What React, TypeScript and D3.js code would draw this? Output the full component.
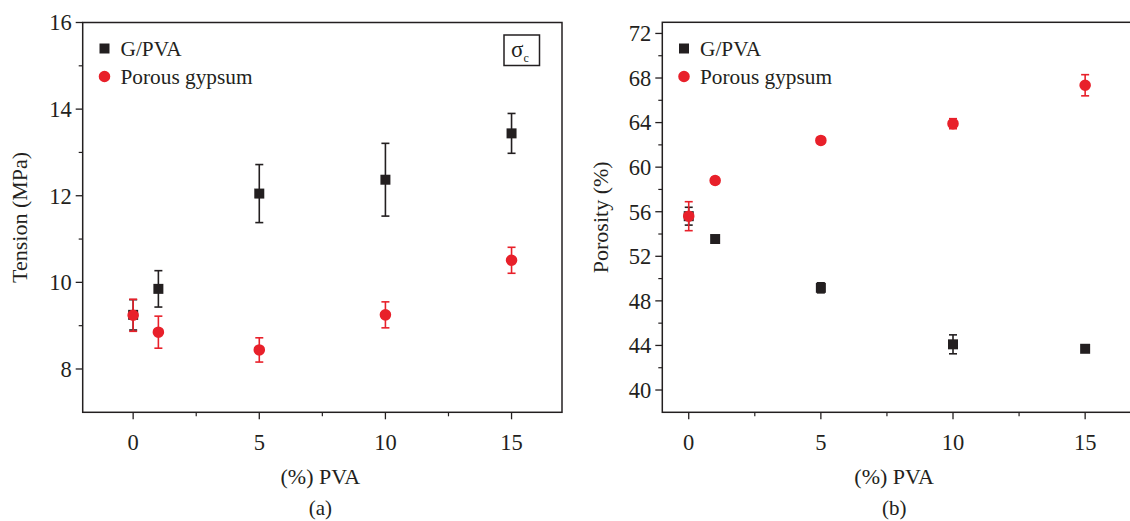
import React from "react";
import * as d3 from "d3";

const xValues = [0, 1, 5, 10, 15];
const xTickValues = [0, 5, 10, 15];
const xMinorTicks = [2.5, 7.5, 12.5];

const tensionGPVA = [9.25, 9.85, 12.05, 12.37, 13.44];
const tensionGPVAErr = [0.35, 0.42, 0.67, 0.84, 0.46];
const tensionPorous = [9.24, 8.85, 8.44, 9.25, 10.51];
const tensionPorousErr = [0.37, 0.37, 0.28, 0.3, 0.3];
const tensionTicks = [8, 10, 12, 14, 16];
const tensionMinor = [9, 11, 13, 15];

const porosityGPVA = [55.6, 53.55, 49.17, 44.1, 43.7];
const porosityGPVAErr = [0.8, 0.3, 0.45, 0.85, 0.15];
const porosityPorous = [55.6, 58.8, 62.4, 63.9, 67.35];
const porosityPorousErr = [1.3, 0.3, 0.3, 0.45, 0.95];
const porosityTicks = [40, 44, 48, 52, 56, 60, 64, 68, 72];
const porosityMinor = [42, 46, 50, 54, 58, 62, 66, 70];

const BLACK = "#231f20";
const RED = "#e8202a";
const FONT = "'Liberation Serif', 'Times New Roman', serif";

type PanelProps = {
  xDomain: [number, number];
  xRange: [number, number];
  yDomain: [number, number];
  yRange: [number, number];
  yTicks: number[];
  yMinor: number[];
  gpva: number[];
  gpvaErr: number[];
  porous: number[];
  porousErr: number[];
  yLabel: string;
  yLabelX: number;
  panelLabel: string;
  legendX: number;
  showSigma?: boolean;
};

function Panel(p: PanelProps) {
  const x = d3.scaleLinear().domain(p.xDomain).range(p.xRange);
  const y = d3.scaleLinear().domain(p.yDomain).range(p.yRange);
  const [x0, x1] = p.xRange;
  const [yb, yt] = p.yRange;
  const cx = (x0 + Math.min(x1, 1130)) / 2;
  const sq = d3.symbol().type(d3.symbolSquare).size(100)();
  const circ = d3.symbol().type(d3.symbolCircle).size(105)();

  const errBar = (xv: number, v: number, e: number, color: string, key: string) => {
    const px = x(xv);
    const top = y(v + e);
    const bot = y(v - e);
    return (
      <g key={key} stroke={color} strokeWidth={1.6}>
        <line x1={px} x2={px} y1={top} y2={bot} />
        <line x1={px - 4} x2={px + 4} y1={top} y2={top} />
        <line x1={px - 4} x2={px + 4} y1={bot} y2={bot} />
      </g>
    );
  };

  return (
    <g>
      <rect
        x={x0}
        y={yt}
        width={x1 - x0}
        height={yb - yt}
        fill="none"
        stroke={BLACK}
        strokeWidth={1.5}
      />
      {p.yTicks.map((t) => (
        <g key={"yt" + t}>
          <line x1={x0 - 7} x2={x0} y1={y(t)} y2={y(t)} stroke={BLACK} strokeWidth={1.3} />
          <text
            x={x0 - 11}
            y={y(t)}
            dy="0.35em"
            textAnchor="end"
            fontFamily={FONT}
            fontSize={22.5}
            fill={BLACK}
          >
            {t}
          </text>
        </g>
      ))}
      {p.yMinor.map((t) => (
        <line key={"ym" + t} x1={x0 - 4} x2={x0} y1={y(t)} y2={y(t)} stroke={BLACK} strokeWidth={1.2} />
      ))}
      {xTickValues.map((t) => (
        <g key={"xt" + t}>
          <line x1={x(t)} x2={x(t)} y1={yb} y2={yb + 7} stroke={BLACK} strokeWidth={1.3} />
          <text
            x={x(t)}
            y={yb + 38}
            textAnchor="middle"
            fontFamily={FONT}
            fontSize={22.5}
            fill={BLACK}
          >
            {t}
          </text>
        </g>
      ))}
      {xMinorTicks.map((t) => (
        <line key={"xm" + t} x1={x(t)} x2={x(t)} y1={yb} y2={yb + 4} stroke={BLACK} strokeWidth={1.2} />
      ))}
      <text
        transform={`translate(${p.yLabelX},${(yt + yb) / 2}) rotate(-90)`}
        textAnchor="middle"
        fontFamily={FONT}
        fontSize={22}
        fill={BLACK}
      >
        {p.yLabel}
      </text>
      <text x={cx - 2} y={484} textAnchor="middle" fontFamily={FONT} fontSize={22} fill={BLACK}>
        (%) PVA
      </text>
      <text x={cx - 2} y={515} textAnchor="middle" fontFamily={FONT} fontSize={21} fill={BLACK}>
        {p.panelLabel}
      </text>
      {xValues.map((xv, i) => errBar(xv, p.gpva[i], p.gpvaErr[i], BLACK, "ge" + i))}
      {xValues.map((xv, i) => (
        <path key={"gs" + i} d={sq} transform={`translate(${x(xv)},${y(p.gpva[i])})`} fill={BLACK} />
      ))}
      {xValues.map((xv, i) => errBar(xv, p.porous[i], p.porousErr[i], RED, "pe" + i))}
      {xValues.map((xv, i) => (
        <path key={"pc" + i} d={circ} transform={`translate(${x(xv)},${y(p.porous[i])})`} fill={RED} />
      ))}
      <path d={sq} transform={`translate(${p.legendX},48.5)`} fill={BLACK} />
      <text x={p.legendX + 16} y={55.5} fontFamily={FONT} fontSize={21.3} fill={BLACK}>
        G/PVA
      </text>
      <path d={circ} transform={`translate(${p.legendX},76.5)`} fill={RED} />
      <text x={p.legendX + 16} y={83.5} fontFamily={FONT} fontSize={21.3} fill={BLACK}>
        Porous gypsum
      </text>
      {p.showSigma && (
        <g>
          <rect x={504} y={35} width={35.5} height={30.5} fill="none" stroke={BLACK} strokeWidth={1.5} />
          <text x={511} y={57} fontFamily={FONT} fontSize={23} fill={BLACK}>
            σ
            <tspan fontSize={12} dy={5}>
              c
            </tspan>
          </text>
        </g>
      )}
    </g>
  );
}

export default function App() {
  return (
    <svg
      width={1130}
      height={521}
      style={{ position: "absolute", left: 0, top: 0, background: "#fff" }}
    >
      <rect width={1130} height={521} fill="#fff" />
      <Panel
        xDomain={[-2, 17]}
        xRange={[82.7, 562]}
        yDomain={[7, 16]}
        yRange={[412.3, 22.5]}
        yTicks={tensionTicks}
        yMinor={tensionMinor}
        gpva={tensionGPVA}
        gpvaErr={tensionGPVAErr}
        porous={tensionPorous}
        porousErr={tensionPorousErr}
        yLabel="Tension (MPa)"
        yLabelX={27}
        panelLabel="(a)"
        legendX={104.5}
        showSigma
      />
      <Panel
        xDomain={[-1, 17]}
        xRange={[662.3, 1138]}
        yDomain={[38, 73]}
        yRange={[412.3, 22.3]}
        yTicks={porosityTicks}
        yMinor={porosityMinor}
        gpva={porosityGPVA}
        gpvaErr={porosityGPVAErr}
        porous={porosityPorous}
        porousErr={porosityPorousErr}
        yLabel="Porosity (%)"
        yLabelX={608}
        panelLabel="(b)"
        legendX={684}
      />
    </svg>
  );
}
